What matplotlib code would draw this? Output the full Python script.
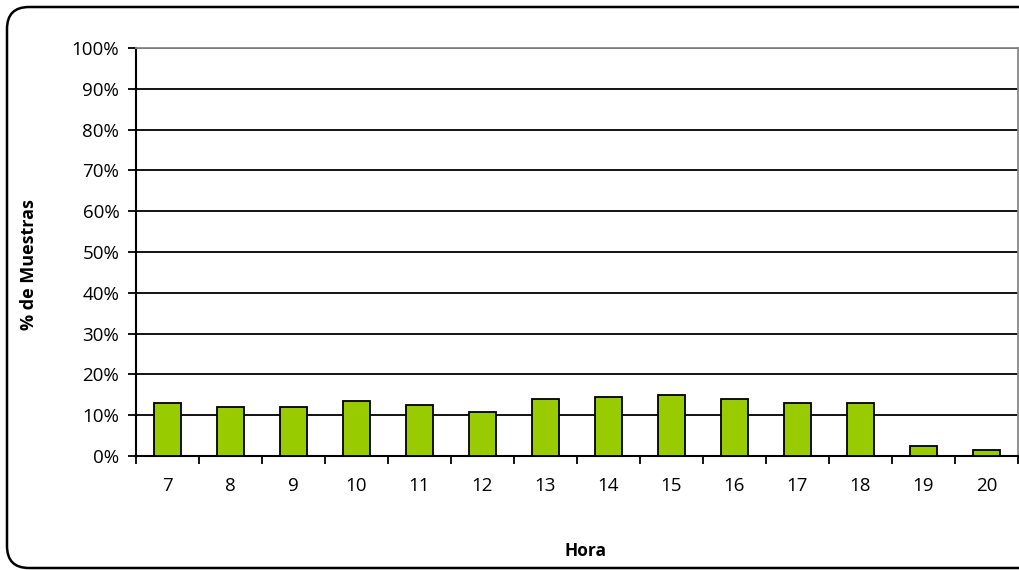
import matplotlib.pyplot as plt
from matplotlib.patches import FancyBboxPatch
from matplotlib.ticker import MultipleLocator, FixedLocator, PercentFormatter
import numpy as np

plt.rcParams['font.family'] = ['Open Sans', 'DejaVu Sans']

horas = ['7', '8', '9', '10', '11', '12', '13', '14', '15', '16', '17', '18', '19', '20']
pct_muestras = [13.0, 12.1, 12.1, 13.5, 12.6, 10.7, 14.0, 14.5, 15.0, 14.0, 13.1, 13.1, 2.4, 1.4]

fig = plt.figure(figsize=(10.2, 5.7), dpi=100)
ax = fig.add_axes([0.1333, 0.2, 0.8647, 0.7158])

x = np.arange(len(horas))
ax.bar(x, pct_muestras, width=0.42, color='#99cc00', edgecolor='black', linewidth=1.3, zorder=3)

ax.set_xlim(-0.5, len(horas) - 0.5)
ax.set_ylim(0, 100)
ax.yaxis.set_major_locator(MultipleLocator(10))
ax.yaxis.set_major_formatter(PercentFormatter(decimals=0))
ax.grid(axis='y', color='black', linewidth=1.3, zorder=1)

ax.set_xticks(x)
ax.set_xticklabels(horas)
ax.xaxis.set_minor_locator(FixedLocator(np.arange(-0.5, len(horas), 1)))
ax.tick_params(axis='x', which='major', length=0, pad=15, labelsize=13.5)
ax.tick_params(axis='x', which='minor', length=6, width=1.3, direction='out')
ax.tick_params(axis='y', length=6, width=1.3, direction='out', pad=6, labelsize=13.5)

for s in ['left', 'bottom']:
    ax.spines[s].set_linewidth(1.5)
for s in ['top', 'right']:
    ax.spines[s].set_color('#888888')
    ax.spines[s].set_linewidth(1.3)

ax.set_xlabel('Hora', fontsize=12.5, fontweight='bold', labelpad=0)
ax.xaxis.set_label_coords(0.51, -0.21)
ax.set_ylabel('% de Muestras', fontsize=13, fontweight='bold')
ax.yaxis.set_label_coords(-0.111, 0.47)

border = FancyBboxPatch((7, 2), 1040, 561, boxstyle='round,pad=0,rounding_size=22',
                        transform=None, facecolor='none', edgecolor='black', linewidth=1.8)
fig.add_artist(border)

fig.savefig('out.png', dpi=100)
